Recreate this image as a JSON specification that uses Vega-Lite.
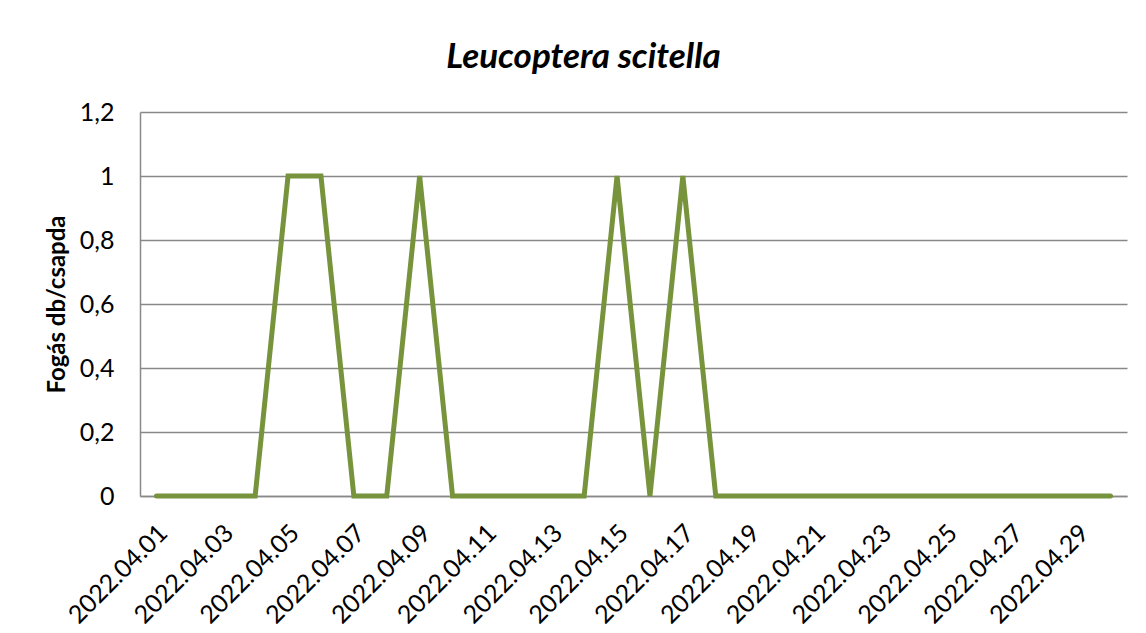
{
  "$schema": "https://vega.github.io/schema/vega-lite/v6.json",
  "width": 987,
  "height": 384,
  "autosize": "none",
  "padding": {"left": 140, "top": 112, "right": 19, "bottom": 137},
  "background": "white",
  "title": {
    "text": "Leucoptera scitella",
    "font": "Lato",
    "fontSize": 35,
    "fontWeight": "bold",
    "fontStyle": "italic",
    "color": "#000000",
    "anchor": "middle",
    "dx": -50,
    "baseline": "alphabetic",
    "offset": -3
  },
  "data": {
    "values": [
      {"date": "2022.04.01", "value": 0},
      {"date": "2022.04.02", "value": 0},
      {"date": "2022.04.03", "value": 0},
      {"date": "2022.04.04", "value": 0},
      {"date": "2022.04.05", "value": 1},
      {"date": "2022.04.06", "value": 1},
      {"date": "2022.04.07", "value": 0},
      {"date": "2022.04.08", "value": 0},
      {"date": "2022.04.09", "value": 1},
      {"date": "2022.04.10", "value": 0},
      {"date": "2022.04.11", "value": 0},
      {"date": "2022.04.12", "value": 0},
      {"date": "2022.04.13", "value": 0},
      {"date": "2022.04.14", "value": 0},
      {"date": "2022.04.15", "value": 1},
      {"date": "2022.04.16", "value": 0},
      {"date": "2022.04.17", "value": 1},
      {"date": "2022.04.18", "value": 0},
      {"date": "2022.04.19", "value": 0},
      {"date": "2022.04.20", "value": 0},
      {"date": "2022.04.21", "value": 0},
      {"date": "2022.04.22", "value": 0},
      {"date": "2022.04.23", "value": 0},
      {"date": "2022.04.24", "value": 0},
      {"date": "2022.04.25", "value": 0},
      {"date": "2022.04.26", "value": 0},
      {"date": "2022.04.27", "value": 0},
      {"date": "2022.04.28", "value": 0},
      {"date": "2022.04.29", "value": 0},
      {"date": "2022.04.30", "value": 0}
    ]
  },
  "mark": {
    "type": "line",
    "color": "#77933C",
    "strokeWidth": 5,
    "strokeCap": "round",
    "strokeJoin": "miter"
  },
  "encoding": {
    "x": {
      "field": "date",
      "type": "ordinal",
      "sort": null,
      "scale": {"type": "point", "padding": 0.5},
      "axis": {
        "title": null,
        "values": ["2022.04.01", "2022.04.03", "2022.04.05", "2022.04.07", "2022.04.09", "2022.04.11", "2022.04.13", "2022.04.15", "2022.04.17", "2022.04.19", "2022.04.21", "2022.04.23", "2022.04.25", "2022.04.27", "2022.04.29"],
        "labelAngle": -45,
        "labelAlign": "right",
        "labelBaseline": "top",
        "labelPadding": 24,
        "labelOffset": -2,
        "labelFont": "Lato",
        "labelFontSize": 25,
        "labelColor": "#000000",
        "ticks": false,
        "tickSize": 0,
        "domain": true,
        "domainColor": "#898989",
        "domainWidth": 1.5,
        "grid": false,
        "labelOverlap": false
      }
    },
    "y": {
      "field": "value",
      "type": "quantitative",
      "scale": {"domain": [0, 1.2], "nice": false, "zero": true},
      "axis": {
        "title": "Fogás db/csapda",
        "titleFont": "Lato",
        "titleFontSize": 24,
        "titleFontWeight": "bold",
        "titleColor": "#000000",
        "titlePadding": 10,
        "values": [0, 0.2, 0.4, 0.6, 0.8, 1, 1.2],
        "labelExpr": "replace(format(datum.value, '.1~f'), '.', ',')",
        "labelFont": "Lato",
        "labelFontSize": 25,
        "labelColor": "#000000",
        "labelPadding": 26,
        "ticks": false,
        "tickSize": 0,
        "domain": true,
        "domainColor": "#898989",
        "domainWidth": 1.5,
        "grid": true,
        "gridColor": "#898989",
        "gridWidth": 1.5
      }
    }
  },
  "config": {
    "view": {"stroke": null}
  }
}
